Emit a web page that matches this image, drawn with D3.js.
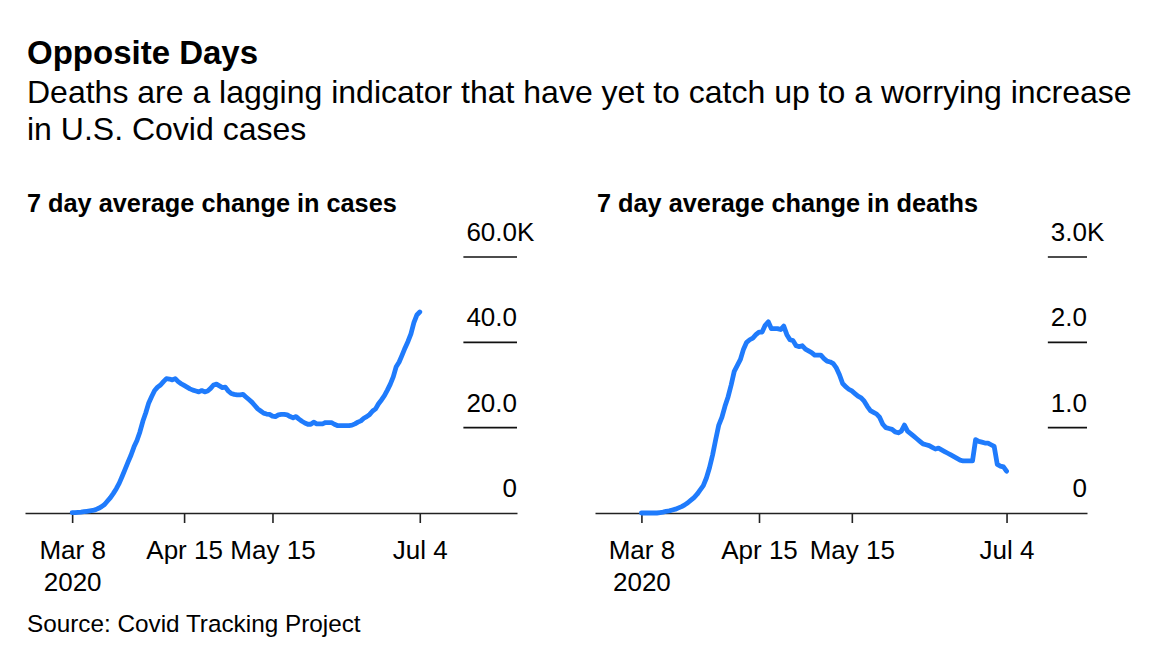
<!DOCTYPE html>
<html>
<head>
<meta charset="utf-8">
<script src="https://cdn.jsdelivr.net/npm/d3@7"></script>
<style>
body { margin: 0; background: #fff; }
text { font-family: "Liberation Sans", Arial, Helvetica, sans-serif; fill: #000; }
</style>
</head>
<body>
<div id="chart"></div>
<script>
// daily 7-day averages, first value is Mar 8 2020, in thousands
var startDate = "2020-03-08";
var casesK = [0.1,0.1,0.15,0.2,0.3,0.4,0.5,0.6,0.8,1.1,
  1.5,2.0,2.8,3.6,4.6,5.7,7.0,8.6,10.3,12.0,
  13.6,15.5,17.0,19.0,21.5,23.5,25.8,27.3,28.7,29.5,
  30.0,30.8,31.5,31.4,31.2,31.5,30.8,30.3,29.9,29.5,
  29.1,28.8,28.6,28.4,28.7,28.4,28.6,29.2,30.0,30.2,
  29.8,29.4,29.5,28.6,28.0,27.8,27.7,27.7,27.8,27.2,
  26.6,26.0,25.2,24.4,23.9,23.4,23.2,23.1,22.7,22.6,
  23.0,23.1,23.1,23.0,22.6,22.3,22.6,22.0,21.5,21.1,
  20.8,20.8,21.3,20.9,20.9,20.9,21.2,21.2,21.2,20.8,
  20.5,20.5,20.5,20.5,20.5,20.6,20.9,21.3,21.6,22.2,
  22.6,23.1,23.9,24.4,25.6,26.5,27.5,28.8,30.2,31.9,
  34.3,35.4,37.0,38.7,40.2,42.0,44.6,46.4,47.1];
var deathsK = [0,0,0,0,0,0,0.005,0.01,0.02,0.025,
  0.035,0.045,0.06,0.075,0.095,0.12,0.15,0.18,0.22,0.27,
  0.32,0.41,0.53,0.68,0.86,1.03,1.12,1.25,1.36,1.50,
  1.66,1.73,1.80,1.92,2.00,2.03,2.05,2.09,2.12,2.12,
  2.20,2.24,2.16,2.16,2.16,2.15,2.19,2.09,2.03,2.02,
  1.96,1.95,1.96,1.92,1.90,1.88,1.85,1.85,1.85,1.81,
  1.78,1.77,1.75,1.70,1.62,1.52,1.48,1.45,1.43,1.40,
  1.37,1.35,1.31,1.25,1.20,1.18,1.16,1.12,1.04,1.00,
  0.99,0.98,0.95,0.94,0.96,1.03,0.96,0.93,0.90,0.87,
  0.84,0.81,0.80,0.79,0.77,0.75,0.76,0.74,0.72,0.70,
  0.68,0.66,0.64,0.62,0.61,0.61,0.61,0.61,0.86,0.84,
  0.83,0.82,0.82,0.80,0.78,0.57,0.55,0.54,0.49];

var xTickDates = ["2020-03-08", "2020-04-15", "2020-05-15", "2020-07-04"];
var xTickLabels = [["Mar 8", "2020"], ["Apr 15"], ["May 15"], ["Jul 4"]];
var casesTicks = [0, 20, 40, 60];
var casesTickLabels = ["0", "20.0", "40.0", "60.0K"];
var deathsTicks = [0, 1, 2, 3];
var deathsTickLabels = ["0", "1.0", "2.0", "3.0K"];

var W = 1160, H = 672;
var blue = "#1f7bfc";
var tickFont = 26;
var parse = d3.timeParse("%Y-%m-%d");

var svg = d3.select("#chart").append("svg")
  .attr("width", W)
  .attr("height", H);

svg.append("text").attr("x", 27).attr("y", 64)
  .style("font-size", "33px").style("font-weight", "bold")
  .text("Opposite Days");
svg.append("text").attr("x", 27).attr("y", 103)
  .style("font-size", "32px")
  .text("Deaths are a lagging indicator that have yet to catch up to a worrying increase");
svg.append("text").attr("x", 27).attr("y", 140)
  .style("font-size", "32px")
  .text("in U.S. Covid cases");
svg.append("text").attr("x", 27).attr("y", 632)
  .style("font-size", "24.3px")
  .text("Source: Covid Tracking Project");

function textWidth(str, size) {
  var t = svg.append("text").style("font-size", size + "px").text(str);
  var w = t.node().getComputedTextLength();
  t.remove();
  return w;
}

function drawPanel(p) {
  var g = svg.append("g");
  var x = d3.scaleTime().domain([parse(p.domain[0]), parse(p.domain[1])]).range([p.x0, p.x1]);
  var y = d3.scaleLinear().domain([0, p.ticks[p.ticks.length - 1]]).range([513, 257]);

  g.append("text").attr("x", p.titleX).attr("y", 212)
    .style("font-size", "25.3px").style("font-weight", "bold")
    .text(p.title);

  // short gridlines + labels at right end
  var nums = p.tickLabels.map(function(d) { return d.replace("K", ""); });
  var gridLen = d3.max(nums, function(d) { return textWidth(d, tickFont); }) + 3;
  p.ticks.forEach(function(t, i) {
    if (t > 0) {
      g.append("line")
        .attr("x1", p.x1 - gridLen).attr("x2", p.x1)
        .attr("y1", y(t)).attr("y2", y(t))
        .attr("stroke", "#111").attr("stroke-width", 1.6);
    }
    g.append("text")
      .attr("x", p.x1 - textWidth(nums[i], tickFont))
      .attr("y", y(t) - 16)
      .style("font-size", tickFont + "px")
      .text(p.tickLabels[i]);
  });

  var tickDates = xTickDates.map(parse);
  var axis = d3.axisBottom(x)
    .tickValues(tickDates)
    .tickSize(10)
    .tickSizeOuter(0)
    .tickFormat(function(d, i) { return xTickLabels[i][0]; });
  var ax = g.append("g").attr("transform", "translate(0,513)").call(axis);
  ax.select(".domain").attr("stroke", "#222").attr("stroke-width", 1.6);
  ax.selectAll(".tick line").attr("stroke", "#222").attr("stroke-width", 1.6);
  ax.selectAll(".tick text")
    .attr("y", 46).attr("dy", 0)
    .style("font-size", tickFont + "px")
    .style("font-family", "'Liberation Sans', Arial, Helvetica, sans-serif")
    .attr("fill", "#000")
    .each(function(d, i) {
      if (xTickLabels[i].length > 1) {
        d3.select(this).append("tspan")
          .attr("x", 0).attr("dy", 32)
          .text(xTickLabels[i][1]);
      }
    });

  var start = parse(startDate);
  var line = d3.line()
    .x(function(d, i) { return x(d3.timeDay.offset(start, i)); })
    .y(function(d) { return y(d); });

  g.append("path")
    .datum(p.values)
    .attr("d", line)
    .attr("fill", "none")
    .attr("stroke", blue)
    .attr("stroke-width", 4.8)
    .attr("stroke-linejoin", "round")
    .attr("stroke-linecap", "round");
}

drawPanel({
  title: "7 day average change in cases", titleX: 27,
  x0: 25, x1: 517, domain: ["2020-02-21", "2020-08-06"],
  values: casesK, ticks: casesTicks, tickLabels: casesTickLabels
});
drawPanel({
  title: "7 day average change in deaths", titleX: 597,
  x0: 595, x1: 1087, domain: ["2020-02-22", "2020-07-30"],
  values: deathsK, ticks: deathsTicks, tickLabels: deathsTickLabels
});
</script>
</body>
</html>
